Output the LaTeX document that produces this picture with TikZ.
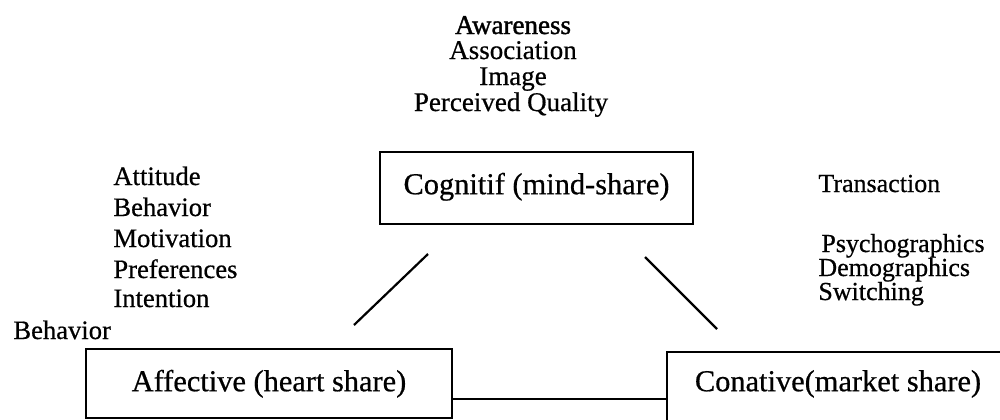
\documentclass[tikz,border=0pt]{standalone}
\usepackage{fontspec}
\setmainfont{Liberation Serif}[FakeBold=0.6]
\newfontfamily\heavyserif{Liberation Serif}[FakeBold=1.4]
\begin{document}
\begin{tikzpicture}[x=0.5pt,y=-0.5pt,
  lbl/.style={inner sep=0pt,anchor=base west,font=\fontsize{13.3pt}{15pt}\selectfont},
  toplbl/.style={inner sep=0pt,anchor=base,font=\fontsize{13.5pt}{15pt}\selectfont},
  rlbl/.style={inner sep=0pt,anchor=base west,font=\fontsize{13pt}{15pt}\selectfont},
  boxnode/.style={draw,line width=1.2pt,inner sep=0pt,font=\fontsize{15.2pt}{17pt}\selectfont},
  link/.style={line width=1.1pt}]
\clip (0,0) rectangle (1000,419);
\fill[white] (0,0) rectangle (1000,419);
% top list
\node[toplbl,font=\heavyserif\fontsize{13.5pt}{15pt}\selectfont] (aw) at (513,34) {Awareness};
\node[toplbl] (as) at (513,59) {Association};
\node[toplbl] (im) at (513,85) {Image};
\node[toplbl] (pq) at (511,111) {Perceived Quality};
% boxes
\node[boxnode,anchor=north,text height=21pt,text depth=15pt,minimum width=156.5pt] (cog) at (536.5,151) {Cognitif (mind-share)};
\node[boxnode,anchor=north,text height=21pt,text depth=13.5pt,minimum width=183pt] (aff) at (269,348) {Affective (heart share)};
\node[boxnode,anchor=north,text height=19.5pt,text depth=25pt,minimum width=171pt] (con) at (838,351) {Conative(market share)};
% left list
\node[lbl] (l1) at (113,185) {Attitude};
\node[lbl] (l2) at (113,216) {Behavior};
\node[lbl] (l3) at (113,247) {Motivation};
\node[lbl] (l4) at (113,278) {Preferences};
\node[lbl] (l5) at (113,307) {Intention};
\node[lbl] (l6) at (13,339) {Behavior};
% right list
\node[rlbl] (r1) at (818,192) {Transaction};
\node[rlbl] (r2) at (821,252) {Psychographics};
\node[rlbl] (r3) at (818,276) {Demographics};
\node[rlbl] (r4) at (818,300) {Switching};
% connectors
\coordinate (la) at (354,325);
\coordinate (lb) at (428,254);
\coordinate (ra) at (645,257);
\coordinate (rb) at (717,329);
\draw[link] (la) -- (lb);
\draw[link] (ra) -- (rb);
\draw[link] (aff.east |- 0,399) -- (con.west |- 0,399);
\end{tikzpicture}
\end{document}
